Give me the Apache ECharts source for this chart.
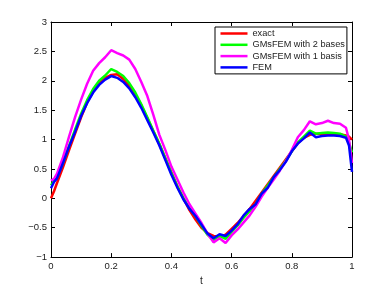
<!DOCTYPE html>
<html><head><meta charset="utf-8">
<script src="https://cdn.jsdelivr.net/npm/echarts@6/dist/echarts.min.js"></script>
<style>html,body{margin:0;padding:0;background:#fff}#c{width:388px;height:291px}</style>
</head><body><div id="c"></div>
<script>
const t = [0,0.01,0.02,0.04,0.06,0.08,0.10,0.12,0.14,0.16,0.18,0.20,0.22,0.24,0.26,0.28,0.30,0.32,0.34,0.36,0.38,0.40,0.42,0.44,0.46,0.48,0.50,0.52,0.54,0.56,0.58,0.60,0.62,0.64,0.66,0.68,0.70,0.72,0.74,0.76,0.78,0.80,0.82,0.84,0.86,0.88,0.90,0.92,0.94,0.96,0.98,0.99,1.00];
const exact = [0,0.12,0.26,0.53,0.82,1.10,1.38,1.63,1.82,1.96,2.05,2.10,2.11,2.03,1.92,1.77,1.58,1.36,1.14,0.92,0.68,0.44,0.20,0.00,-0.20,-0.36,-0.50,-0.59,-0.64,-0.65,-0.62,-0.52,-0.42,-0.30,-0.18,-0.04,0.10,0.24,0.38,0.52,0.66,0.80,0.94,1.03,1.08,1.10,1.10,1.10,1.10,1.09,1.07,1.05,1.00];
const gms2 = [0.22,0.30,0.36,0.60,0.89,1.17,1.44,1.67,1.86,2.00,2.09,2.20,2.15,2.08,1.96,1.80,1.60,1.38,1.15,0.93,0.68,0.43,0.20,0.00,-0.17,-0.30,-0.47,-0.62,-0.71,-0.64,-0.69,-0.57,-0.46,-0.33,-0.22,-0.10,0.08,0.22,0.36,0.50,0.64,0.80,0.95,1.05,1.15,1.10,1.11,1.12,1.11,1.10,1.05,0.95,0.78];
const gms1 = [0.30,0.33,0.42,0.70,1.05,1.38,1.68,1.95,2.17,2.30,2.40,2.52,2.47,2.43,2.36,2.20,1.98,1.74,1.42,1.08,0.82,0.54,0.32,0.10,-0.10,-0.26,-0.42,-0.60,-0.75,-0.68,-0.76,-0.63,-0.53,-0.41,-0.29,-0.14,0.03,0.18,0.32,0.47,0.63,0.82,1.04,1.16,1.31,1.26,1.28,1.32,1.28,1.27,1.20,1.00,0.60];
const fem = [0.17,0.28,0.34,0.60,0.88,1.13,1.40,1.62,1.80,1.93,2.02,2.08,2.05,1.98,1.87,1.72,1.54,1.33,1.12,0.90,0.65,0.40,0.18,-0.02,-0.18,-0.30,-0.45,-0.60,-0.68,-0.61,-0.64,-0.55,-0.44,-0.29,-0.18,-0.10,0.08,0.18,0.36,0.48,0.62,0.80,0.93,1.02,1.12,1.04,1.06,1.07,1.07,1.06,1.03,0.90,0.45];
const xTicks = [0,0.2,0.4,0.6,0.8,1];
const yTicks = [-1,-0.5,0,0.5,1,1.5,2,2.5,3];
const seriesNames = ['exact','GMsFEM with 2 bases','GMsFEM with 1 basis','FEM'];
const seriesColors = ['#ff0000','#00ff00','#ff00ff','#0000ff'];
const seriesData = [exact, gms2, gms1, fem];

const font = 'Liberation Sans, Arial, Helvetica, sans-serif';
const fmt = v => {
  if (Math.abs(v) < 1e-9) return '0';
  return String(+v.toFixed(2)).replace('-', '\u2212');
};
const xStep = xTicks[1] - xTicks[0];
const yStep = yTicks[1] - yTicks[0];
function xAx(pos, show) {
  return {
    type: 'value', position: pos, min: xTicks[0], max: xTicks[xTicks.length - 1], interval: xStep,
    axisLine: { show: true, onZero: false, lineStyle: { color: '#000', width: 1 } },
    axisTick: { show: true, inside: true, length: 4, lineStyle: { color: '#000', width: 1 } },
    axisLabel: { show: show, formatter: fmt, fontSize: 9.5, color: '#222', margin: 4, fontFamily: font },
    splitLine: { show: false },
    name: show ? 't' : '', nameLocation: 'middle', nameGap: 13,
    nameTextStyle: { fontSize: 10, color: '#222', fontFamily: font }
  };
}
function yAx(pos, show) {
  return {
    type: 'value', position: pos, min: yTicks[0], max: yTicks[yTicks.length - 1], interval: yStep,
    axisLine: { show: true, onZero: false, lineStyle: { color: '#000', width: 1 } },
    axisTick: { show: true, inside: true, length: 4, lineStyle: { color: '#000', width: 1 } },
    axisLabel: { show: show, formatter: fmt, fontSize: 9.5, color: '#222', margin: 4, fontFamily: font },
    splitLine: { show: false }
  };
}
const chart = echarts.init(document.getElementById('c'), null, { renderer: 'canvas' });
chart.setOption({
  animation: false,
  backgroundColor: '#fff',
  grid: { left: 51, right: 36, top: 22, bottom: 32, containLabel: false },
  xAxis: [xAx('bottom', true), xAx('top', false)],
  yAxis: [yAx('left', true), yAx('right', false)],
  legend: {
    orient: 'vertical', left: 215, top: 27,
    data: seriesNames.map(n => ({ name: n, icon: 'rect' })),
    itemWidth: 27, itemHeight: 2.5, itemGap: 1.3,
    padding: [1.5, 2, 1.5, 5.5],
    borderColor: '#000', borderWidth: 1, backgroundColor: '#fff',
    textStyle: { fontSize: 9.2, lineHeight: 10, color: '#222', fontFamily: font }
  },
  series: seriesNames.map((name, k) => ({
    name: name, type: 'line', xAxisIndex: 0, yAxisIndex: 0,
    symbol: 'none', showSymbol: false,
    lineStyle: { color: seriesColors[k], width: 2.5 },
    itemStyle: { color: seriesColors[k] },
    data: t.map((x, i) => [x, seriesData[k][i]]),
    z: 2 + k
  }))
});
</script>
</body></html>
